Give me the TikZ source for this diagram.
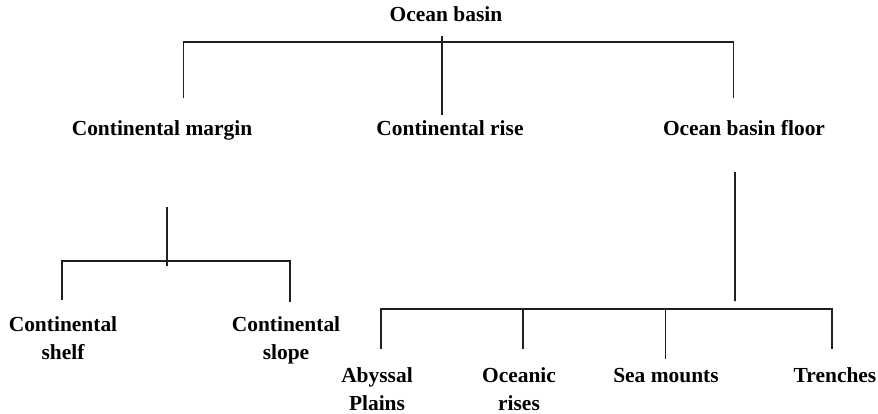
\documentclass[tikz,border=0pt]{standalone}
\usepackage{fontspec}
\setmainfont{Liberation Serif}
\usetikzlibrary{positioning,calc}
\tikzset{
  term/.style={font=\bfseries\fontsize{12.2}{15.9}\selectfont,inner sep=0pt,anchor=base,align=center},
  link/.style={line width=1.1pt,draw=black!88}
}

\begin{document}
\begin{tikzpicture}
  \useasboundingbox (0,0) rectangle (17.56,-8.26);
  % levels of the classification (base = last line)
  \node[term] (root) at (8.92,-0.44) {Ocean basin};
  \node[term] (margin) at (3.24,-2.70) {Continental margin};
  \node[term] (rise) at (9.00,-2.70) {Continental rise};
  \node[term] (floor) at (14.88,-2.70) {Ocean basin floor};
  \node[term] (shelf) at (1.26,-7.18) {Continental\\shelf};
  \node[term] (slope) at (5.72,-7.18) {Continental\\slope};
  \node[term] (abyssal) at (7.54,-8.20) {Abyssal\\Plains};
  \node[term] (oceanic) at (10.38,-8.20) {Oceanic\\rises};
  \node[term] (seamounts) at (13.32,-7.64) {Sea mounts};
  \node[term] (trenches) at (16.70,-7.64) {Trenches};

  % bar heights
  \coordinate (topbar) at (8.84,-0.834);
  \coordinate (shelfbar) at (3.34,-5.22);
  \coordinate (floorbar) at (14.70,-6.18);

  % ocean basin
  \draw[link] ([xshift=-0.08cm,yshift=-0.28cm]root.base) -- ([xshift=-0.16cm,yshift=0.40cm]rise.base);
  \draw[link] ([xshift=0.43cm,yshift=0.74cm]margin.base) |- (topbar)
    -| ([xshift=-0.21cm,yshift=0.74cm]floor.base);

  % continental margin
  \draw[link] ([xshift=0.10cm,yshift=-1.44cm]margin.base) -- ([yshift=-0.10cm]shelfbar);
  \draw[link] ([xshift=-0.02cm,yshift=1.18cm]shelf.base) |- (shelfbar)
    -| ([xshift=0.08cm,yshift=1.14cm]slope.base);

  % ocean basin floor
  \coordinate (ocTop) at ([xshift=0.08cm,yshift=1.22cm]oceanic.base);
  \coordinate (smTop) at ([xshift=-0.01cm,yshift=0.46cm]seamounts.base);
  \draw[link] ([xshift=-0.18cm,yshift=-0.74cm]floor.base) -- ([yshift=0.16cm]floorbar);
  \draw[link] ([xshift=0.08cm,yshift=1.22cm]abyssal.base) |- (floorbar)
    -| ([xshift=-0.06cm,yshift=0.66cm]trenches.base);
  \draw[link] (ocTop) -- (ocTop |- floorbar);
  \draw[link] (smTop) -- (smTop |- floorbar);
\end{tikzpicture}
\end{document}
